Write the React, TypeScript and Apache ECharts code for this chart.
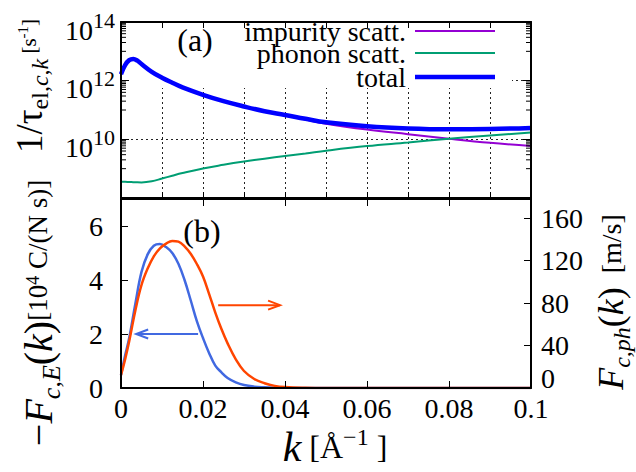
import { useEffect, useRef } from 'react';
import * as echarts from 'echarts';

const FONT = 'Liberation Serif';

// ---------- Panel (a): scattering rates [1/s] ----------
const kTop = [0, 0.001, 0.002, 0.003, 0.004, 0.005, 0.0075, 0.01, 0.0125, 0.015, 0.02, 0.025, 0.03, 0.035, 0.04, 0.045, 0.05, 0.06, 0.07, 0.08, 0.09, 0.1];
const impurityRate = [1.66e12, 3.39e12, 5.0e12, 5.5e12, 4.8e12, 3.7e12, 2.0e12, 1.26e12, 8.5e11, 5.9e11, 3.3e11, 2.0e11, 1.29e11, 8.9e10, 6.5e10, 4.7e10, 3.4e10, 2.15e10, 1.5e10, 1.05e10, 7.6e9, 5.9e9];
const phononRate = [3.55e8, 3.55e8, 3.5e8, 3.47e8, 3.42e8, 3.4e8, 3.7e8, 4.6e8, 5.75e8, 7.1e8, 1.02e9, 1.35e9, 1.74e9, 2.19e9, 2.7e9, 3.3e9, 4.1e9, 5.9e9, 7.8e9, 1.05e10, 1.35e10, 1.7e10];
const totalRate = [1.66e12, 3.39e12, 5.0e12, 5.5e12, 4.8e12, 3.7e12, 2.0e12, 1.26e12, 8.5e11, 5.9e11, 3.3e11, 2.0e11, 1.32e11, 9.1e10, 6.8e10, 5.0e10, 3.8e10, 2.8e10, 2.35e10, 2.2e10, 2.25e10, 2.45e10];
const minorTickDecades = [9, 11, 13];
const minorTickMultipliers = [1, 2, 3, 4, 5, 6, 7, 8, 9];

// ---------- Panel (b) ----------
const kBottom = [0, 0.001, 0.002, 0.0035, 0.005, 0.0065, 0.008, 0.0095, 0.011, 0.0125, 0.014, 0.0155, 0.017, 0.0185, 0.02, 0.0215, 0.023, 0.0245, 0.026, 0.028, 0.03, 0.0325, 0.035, 0.0375, 0.04, 0.045, 0.05, 0.06, 0.07, 0.08, 0.09, 0.1];
const fieldResponse = [0.48, 1.2, 1.85, 3.12, 4.3, 4.95, 5.27, 5.33, 5.22, 5.0, 4.6, 4.0, 3.25, 2.48, 1.85, 1.29, 0.83, 0.58, 0.37, 0.21, 0.11, 0.05, 0.025, 0.01, 0.005, 0, 0, 0, 0, 0, 0, 0];
const phononResponse = [12.2, 27, 44, 73, 97, 112.5, 124, 131.5, 136, 138.5, 137.8, 133.4, 126.4, 116.8, 105, 88.5, 71, 55.5, 42, 27, 16, 8.5, 4.5, 2.0, 0.9, 0.2, 0, 0, 0, 0, 0, 0];
const leftArrow = [0.0188, 2, 0.0037, 2];
const rightArrow = [0.0237, 78, 0.0388, 78];

const C_IMP = '#9400d3';
const C_PHON = '#009e73';
const C_TOT = '#0000ff';
const C_BLUE = '#4169e1';
const C_RED = '#ff4500';

const axisLineStyle = { onZero: false, lineStyle: { color: '#000', width: 2 } };
const tickLine = { color: '#000', width: 1 };
const dotted = { color: '#222', width: 1, type: [2, 3] };

function arrowRenderer(color: string) {
  return (_p: any, api: any) => {
    const a = api.coord([api.value(0), api.value(1)]);
    const b = api.coord([api.value(2), api.value(3)]);
    const dx = b[0] - a[0];
    const dy = b[1] - a[1];
    const len = Math.sqrt(dx * dx + dy * dy) || 1;
    const ux = dx / len, uy = dy / len;
    const nx = -uy, ny = ux;
    const hl = 12, hw = 4.5;
    const h1 = [b[0] - ux * hl + nx * hw, b[1] - uy * hl + ny * hw];
    const h2 = [b[0] - ux * hl - nx * hw, b[1] - uy * hl - ny * hw];
    return {
      type: 'group',
      children: [
        { type: 'line', shape: { x1: a[0], y1: a[1], x2: b[0], y2: b[1] }, style: { stroke: color, lineWidth: 2 } },
        { type: 'polyline', shape: { points: [h1, b, h2] }, style: { stroke: color, lineWidth: 2, fill: null } },
      ],
    };
  };
}

const rt = (fontSize: number, extra: any = {}) => ({ fontSize, fontFamily: FONT, lineHeight: fontSize, verticalAlign: 'middle', fill: '#000', color: '#000', ...extra });

export default function App() {
  const ref = useRef<HTMLDivElement>(null);
  useEffect(() => {
    if (!ref.current) return;
    const chart = echarts.init(ref.current, null, { renderer: 'svg' });
    const lg = (v: number) => Math.log10(v);
    const minorTicks: number[][] = [];
    minorTickDecades.forEach((n) => minorTickMultipliers.forEach((m) => minorTicks.push([0, n + Math.log10(m)])));

    const lineSeries = (name: string, xi: number, yi: number, data: number[][], color: string, width: number) => ({
      type: 'line', name, xAxisIndex: xi, yAxisIndex: yi, data,
      symbol: 'none', showSymbol: false, smooth: 0.4,
      lineStyle: { color, width }, itemStyle: { color }, z: 2, silent: true,
    });

    const plainText = (text: string, x: number, y: number, size: number, align: string, lh?: number) => ({
      type: 'text', z: 10, x, y,
      style: {
        text: `{t|${text}}`, align, verticalAlign: 'middle', textAlign: align, textVerticalAlign: 'middle', fill: '#000',
        rich: { t: rt(size, { lineHeight: lh ?? size }) },
      },
    });

    const tickLabel = { t: rt(28) };

    const option: any = {
      animation: false,
      grid: [
        { left: 121, top: 13, width: 410, height: 185 },
        { left: 121, top: 199, width: 410, height: 189 },
      ],
      xAxis: [
        { gridIndex: 0, type: 'value', min: 0, max: 0.1, interval: 0.01, position: 'bottom', z: 5,
          axisLine: axisLineStyle, axisTick: { inside: true, length: 6, lineStyle: tickLine },
          axisLabel: { show: false }, splitLine: { show: false } },
        { gridIndex: 0, type: 'value', min: 0, max: 0.1, interval: 0.01, position: 'top', z: 5,
          axisLine: axisLineStyle, axisTick: { inside: true, length: 6, lineStyle: tickLine },
          axisLabel: { show: false }, splitLine: { show: false } },
        { gridIndex: 0, type: 'value', min: 0, max: 0.1, interval: 0.01, position: 'bottom', z: 0,
          axisLine: { show: false }, axisTick: { show: false }, axisLabel: { show: false },
          splitLine: { show: true, lineStyle: dotted } },
        { gridIndex: 1, type: 'value', min: 0, max: 0.1, interval: 0.02, position: 'bottom', z: 5,
          axisLine: axisLineStyle, axisTick: { inside: true, length: 7, lineStyle: tickLine },
          axisLabel: { show: true, margin: 6, color: '#000', fontSize: 28, fontFamily: FONT,
            formatter: (v: number) => `{t|${parseFloat(v.toFixed(3))}}`, rich: tickLabel },
          splitLine: { show: false } },
        { gridIndex: 1, type: 'value', min: 0, max: 0.1, interval: 0.02, position: 'top', z: 5,
          axisLine: axisLineStyle, axisTick: { inside: true, length: 7, lineStyle: tickLine },
          axisLabel: { show: false }, splitLine: { show: false } },
      ],
      yAxis: [
        { gridIndex: 0, type: 'value', min: 8, max: 14, interval: 2, position: 'left', z: 5,
          axisLine: axisLineStyle, axisTick: { inside: true, length: 8, lineStyle: tickLine },
          axisLabel: { show: true, margin: 6, showMinLabel: false, color: '#000', fontFamily: FONT, fontSize: 28,
            formatter: (v: number) => `{b|10}{s|${v}}`,
            rich: {
              b: rt(28, { padding: [16, 0, 0, 0] }),
              s: rt(22, { padding: [0, 0, 4, 0] }),
            } },
          splitLine: { show: false } },
        { gridIndex: 0, type: 'value', min: 8, max: 14, interval: 2, position: 'right', z: 5,
          axisLine: axisLineStyle, axisTick: { inside: true, length: 8, lineStyle: tickLine },
          axisLabel: { show: false }, splitLine: { show: false } },
        { gridIndex: 0, type: 'value', min: 8, max: 14, interval: 2, position: 'left', z: 0,
          axisLine: { show: false }, axisTick: { show: false }, axisLabel: { show: false },
          splitLine: { show: true, lineStyle: dotted } },
        { gridIndex: 1, type: 'value', min: 0, max: 7, interval: 2, position: 'left', z: 5,
          axisLine: axisLineStyle, axisTick: { inside: true, length: 7, lineStyle: tickLine },
          axisLabel: { show: true, margin: 18, showMaxLabel: false, color: '#000', fontSize: 28, fontFamily: FONT,
            formatter: (v: number) => `{t|${v}}`, rich: tickLabel },
          splitLine: { show: false } },
        { gridIndex: 1, type: 'value', min: 0, max: 178, interval: 40, position: 'right', z: 5,
          axisLine: axisLineStyle, axisTick: { inside: true, length: 7, lineStyle: tickLine },
          axisLabel: { show: true, margin: 10, showMaxLabel: false, color: '#000', fontSize: 28, fontFamily: FONT,
            formatter: (v: number) => (v === 0 ? '{z|0}' : `{t|${v}}`),
            rich: { t: rt(28), z: rt(28, { padding: [0, 0, 20, 0] }) } },
          splitLine: { show: false } },
      ],
      series: [
        lineSeries('impurity scatt.', 0, 0, kTop.map((k, i) => [k, lg(impurityRate[i])]), C_IMP, 2),
        lineSeries('phonon scatt.', 0, 0, kTop.map((k, i) => [k, lg(phononRate[i])]), C_PHON, 2),
        lineSeries('total', 0, 0, kTop.map((k, i) => [k, lg(totalRate[i])]), C_TOT, 4.5),
        {
          type: 'custom', name: 'minor ticks', xAxisIndex: 0, yAxisIndex: 0, data: minorTicks, z: 6, silent: true, clip: false,
          renderItem: (_p: any, api: any) => {
            const v = api.value(1);
            const l = api.coord([0, v]);
            const r = api.coord([0.1, v]);
            return {
              type: 'group',
              children: [
                { type: 'line', shape: { x1: l[0], y1: l[1], x2: l[0] + 5, y2: l[1] }, style: { stroke: '#000', lineWidth: 1 } },
                { type: 'line', shape: { x1: r[0] - 5, y1: r[1], x2: r[0], y2: r[1] }, style: { stroke: '#000', lineWidth: 1 } },
              ],
            };
          },
        },
        lineSeries('-F_c,E(k)', 3, 3, kBottom.map((k, i) => [k, fieldResponse[i]]), C_BLUE, 2.5),
        lineSeries('F_c,ph(k)', 3, 4, kBottom.map((k, i) => [k, phononResponse[i]]), C_RED, 2.5),
        { type: 'custom', name: 'arrow left', xAxisIndex: 3, yAxisIndex: 3, data: [leftArrow], z: 3, silent: true, clip: false,
          renderItem: arrowRenderer(C_BLUE) },
        { type: 'custom', name: 'arrow right', xAxisIndex: 3, yAxisIndex: 4, data: [rightArrow], z: 3, silent: true, clip: false,
          renderItem: arrowRenderer(C_RED) },
      ],
      graphic: [
        { type: 'rect', z: 1, silent: true, shape: { x: 122, y: 14, width: 390, height: 74 }, style: { fill: '#fff' } },
        plainText('impurity scatt.', 406, 31, 28, 'right', 22),
        plainText('phonon scatt.', 406, 53, 28, 'right', 22),
        plainText('total', 406, 77, 28, 'right', 22),
        { type: 'line', z: 10, shape: { x1: 415, y1: 31, x2: 495, y2: 31 }, style: { stroke: C_IMP, lineWidth: 2 } },
        { type: 'line', z: 10, shape: { x1: 415, y1: 53, x2: 495, y2: 53 }, style: { stroke: C_PHON, lineWidth: 2 } },
        { type: 'line', z: 10, shape: { x1: 415, y1: 77, x2: 495, y2: 77 }, style: { stroke: C_TOT, lineWidth: 4.5 } },
        plainText('(a)', 195, 40, 32, 'center'),
        plainText('(b)', 202, 231, 32, 'center'),
        // left top title
        { type: 'text', z: 10, x: 29, y: 86, rotation: Math.PI / 2,
          style: {
            text: '{m|1/τ}{s|el,}{si|c}{s|,}{si|k}{b| [s}{bp|-1}{b|]}',
            align: 'center', verticalAlign: 'middle', textAlign: 'center', textVerticalAlign: 'middle', fill: '#000',
            rich: {
              m: rt(37),
              s: rt(24, { padding: [22, 0, 0, 0] }),
              si: rt(24, { fontStyle: 'italic', padding: [22, 0, 0, 0] }),
              b: rt(21),
              bp: rt(15, { padding: [0, 0, 12, 0] }),
            },
          } },
        // left bottom title
        { type: 'text', z: 10, x: 38, y: 313, rotation: Math.PI / 2,
          style: {
            text: '{m|−}{mi|F}{si|c}{s|,}{si|E}{m|(}{mi|k}{m|)}{b|[10}{bp|4}{b| C/(N s)]}',
            align: 'center', verticalAlign: 'middle', textAlign: 'center', textVerticalAlign: 'middle', fill: '#000',
            rich: {
              m: rt(40),
              mi: rt(40, { fontStyle: 'italic' }),
              s: rt(26, { padding: [26, 0, 0, 0] }),
              si: rt(26, { fontStyle: 'italic', padding: [26, 0, 0, 0] }),
              b: rt(27),
              bp: rt(18, { padding: [0, 0, 10, 0] }),
            },
          } },
        // right title
        { type: 'text', z: 10, x: 611, y: 302, rotation: Math.PI / 2,
          style: {
            text: '{mi|F}{si|c,ph}{m|(}{mi|k}{m|)}{b|  [m/s]}',
            align: 'center', verticalAlign: 'middle', textAlign: 'center', textVerticalAlign: 'middle', fill: '#000',
            rich: {
              m: rt(36),
              mi: rt(36, { fontStyle: 'italic' }),
              si: rt(24, { fontStyle: 'italic', padding: [22, 0, 0, 0] }),
              b: rt(28),
            },
          } },
        // x title
        { type: 'text', z: 10, x: 335, y: 447,
          style: {
            text: '{mi|k}{b| [Å}{bp|−1}{b| ]}',
            align: 'center', verticalAlign: 'middle', textAlign: 'center', textVerticalAlign: 'middle', fill: '#000',
            rich: {
              mi: rt(42, { fontStyle: 'italic', lineHeight: 38 }),
              b: rt(32),
              bp: rt(24, { lineHeight: 18, padding: [0, 0, 20, 0] }),
            },
          } },
      ],
    };
    chart.setOption(option);
    return () => chart.dispose();
  }, []);
  return <div ref={ref} style={{ position: 'fixed', left: 0, top: 0, width: 636, height: 472, background: '#fff' }} />;
}
